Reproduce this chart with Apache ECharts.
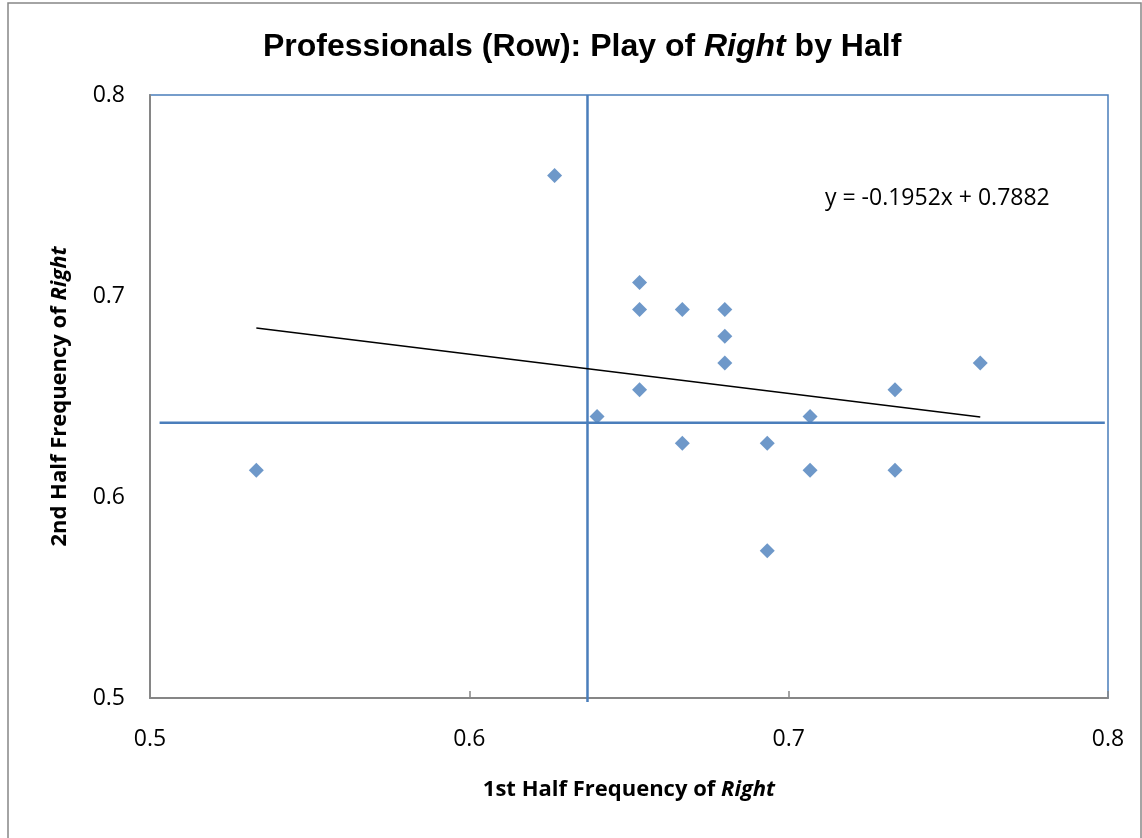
<!DOCTYPE html>
<html>
<head>
<meta charset="utf-8">
<script src="https://cdn.jsdelivr.net/npm/echarts@6/dist/echarts.min.js"></script>
<style>
html,body{margin:0;padding:0;background:#fff;}
#chart{width:1142px;height:838px;}
</style>
</head>
<body>
<div id="chart"></div>
<script>
// 1st half frequency of Right (x) and 2nd half frequency of Right (y)
const firstHalf  = [0.6533, 0.6533, 0.6667, 0.6800, 0.6800, 0.6800, 0.7600, 0.6533, 0.7333, 0.6400, 0.7067, 0.6667, 0.6933, 0.7067, 0.7333, 0.6933, 0.5333, 0.6267];
const secondHalf = [0.7067, 0.6933, 0.6933, 0.6933, 0.6800, 0.6667, 0.6667, 0.6533, 0.6533, 0.6400, 0.6400, 0.6267, 0.6267, 0.6133, 0.6133, 0.5733, 0.6133, 0.7600];
// Reference lines
const refX = 0.637;
const refY = 0.637;
// Trendline coefficients (from label)
const slope = -0.1952;
const intercept = 0.7882;
const xTicks = [0.5, 0.6, 0.7, 0.8];
const yTicks = [0.5, 0.6, 0.7, 0.8];

const points = firstHalf.map((x, i) => [x, secondHalf[i]]);
const xMin = Math.min(...firstHalf), xMax = Math.max(...firstHalf);
const trend = [[xMin, slope * xMin + intercept], [xMax, slope * xMax + intercept]];

const BLUE = '#4a7ebb';
const GREY = '#868686';
const LAB = '"Open Sans", Lato, sans-serif';

const chart = echarts.init(document.getElementById('chart'), null, {renderer: 'canvas'});
chart.setOption({
  backgroundColor: '#fff',
  animation: false,
  title: {
    text: '{a|Professionals (Row): Play of }{i|Right}{a| by Half}',
    left: 258,
    top: 26,
    textStyle: {
      rich: {
        a: {fontFamily: '"Liberation Sans", Arial, sans-serif', fontWeight: 'bold', fontSize: 32, color: '#000'},
        i: {fontFamily: '"Liberation Sans", Arial, sans-serif', fontWeight: 'bold', fontStyle: 'italic', fontSize: 32, color: '#000'}
      }
    }
  },
  graphic: [
    {type: 'rect', shape: {x: 8, y: 3, width: 1133, height: 900}, style: {fill: 'none', stroke: GREY, lineWidth: 1.5}, silent: true, z: -1},
    {type: 'text', left: 825, top: 187, style: {text: 'y = -0.1952x + 0.7882', font: '23px ' + LAB, fill: '#000'}}
  ],
  grid: {
    left: 150, right: 34, top: 95, bottom: 140,
    show: true, borderColor: BLUE, borderWidth: 1.5, backgroundColor: '#fff'
  },
  xAxis: {
    type: 'value', min: 0.5, max: 0.8, interval: 0.1,
    splitLine: {show: false},
    axisLine: {show: true, onZero: false, lineStyle: {color: GREY, width: 2}},
    axisTick: {show: true, inside: true, length: 7, lineStyle: {color: GREY, width: 1.5}},
    axisLabel: {margin: 30, fontFamily: LAB, fontSize: 23, color: '#000', formatter: v => String(+v.toFixed(1))},
    name: '{a|1st Half Frequency of }{i|Right}',
    nameLocation: 'middle',
    nameGap: 81,
    nameTextStyle: {
      rich: {
        a: {fontFamily: LAB, fontWeight: 'bold', fontSize: 22, color: '#000'},
        i: {fontFamily: LAB, fontWeight: 'bold', fontStyle: 'italic', fontSize: 22, color: '#000'}
      }
    }
  },
  yAxis: {
    type: 'value', min: 0.5, max: 0.8, interval: 0.1,
    splitLine: {show: false},
    axisLine: {show: true, onZero: false, lineStyle: {color: GREY, width: 2}},
    axisTick: {show: false},
    axisLabel: {margin: 25, fontFamily: LAB, fontSize: 23, color: '#000', formatter: v => String(+v.toFixed(1))},
    name: '{a|2nd Half Frequency of }{i|Right}',
    nameLocation: 'middle',
    nameGap: 79,
    nameTextStyle: {
      rich: {
        a: {fontFamily: LAB, fontWeight: 'bold', fontSize: 22, color: '#000'},
        i: {fontFamily: LAB, fontWeight: 'bold', fontStyle: 'italic', fontSize: 22, color: '#000'}
      }
    }
  },
  series: [
    {
      type: 'line', data: [[refX, 0.498], [refX, 0.8]], clip: false,
      symbol: 'none', lineStyle: {color: BLUE, width: 2.5}, silent: true, z: 3
    },
    {
      type: 'line', data: [[0.503, refY], [0.799, refY]], clip: false,
      symbol: 'none', lineStyle: {color: BLUE, width: 2.5}, silent: true, z: 3
    },
    {
      type: 'line', data: trend, symbol: 'none',
      lineStyle: {color: '#000', width: 1.5}, silent: true, z: 4
    },
    {
      type: 'scatter', data: points, symbol: 'diamond', symbolSize: 15,
      itemStyle: {color: BLUE}, z: 5
    }
  ]
});
</script>
</body>
</html>
